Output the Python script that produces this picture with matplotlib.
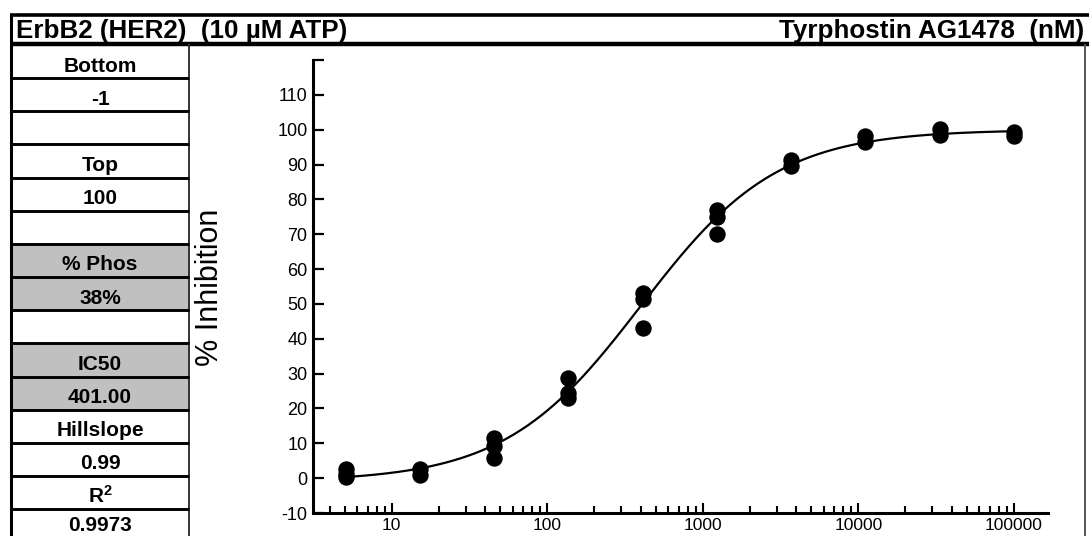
import numpy as np
import matplotlib
matplotlib.use("Agg")
import matplotlib.pyplot as plt
from matplotlib.patches import Rectangle

plt.rcParams['font.family'] = ['Liberation Sans', 'DejaVu Sans']
plt.rcParams['mathtext.fontset'] = 'custom'
plt.rcParams['mathtext.rm'] = 'Liberation Sans'
plt.rcParams['mathtext.bf'] = 'Liberation Sans:bold'

# ---- data ----
title_left = "ErbB2 (HER2)  (10 \u00b5M ATP)"
title_right = "Tyrphostin AG1478  (nM)"
y_label = "% Inhibition"

table_rows = ["Bottom", "-1", "", "Top", "100", "", "% Phos", "38%", "",
              "IC50", "401.00", "Hillslope", "0.99", r"$\mathbf{R^2}$", "0.9973"]
shaded_rows = [6, 7, 9, 10]

conc = [5.08, 15.2, 45.7, 137, 412, 1235, 3704, 11111, 33333, 100000]
replicates = [
    [0.3, 1.3, 2.7],
    [0.9, 2.6],
    [5.7, 9.2, 11.4],
    [23.1, 24.3, 28.6],
    [43.2, 51.3, 53.2],
    [70.0, 75.0, 76.9],
    [89.6, 91.3],
    [96.4, 98.1],
    [98.6, 100.1],
    [98.1, 99.3],
]

fit_bottom = -1.0
fit_top = 100.0
fit_ic50 = 401.0
fit_hill = 0.99

y_ticks = [-10, 0, 10, 20, 30, 40, 50, 60, 70, 80, 90, 100, 110, 120]
y_ticklabels = ["-10", "0", "10", "20", "30", "40", "50", "60", "70", "80", "90", "100", "110", ""]
x_ticks = [10, 100, 1000, 10000, 100000]
x_ticklabels = ["10", "100", "1000", "10000", "100000"]

# ---- figure ----
W, H = 1089, 536
fig = plt.figure(figsize=(W / 100, H / 100), dpi=100)
bg = fig.add_axes([0, 0, 1, 1])
bg.set_xlim(0, W)
bg.set_ylim(H, 0)
bg.axis('off')

# frame / table
row_top0 = 45.0
row_h = 33.15
tab_l, tab_r = 11, 189
for i, label in enumerate(table_rows):
    y0 = row_top0 + row_h * i
    if i in shaded_rows:
        bg.add_patch(Rectangle((tab_l, y0), tab_r - tab_l, row_h, facecolor='#c0c0c0',
                               edgecolor='none', zorder=1))
    if i > 0:
        bg.plot([tab_l, tab_r], [y0, y0], color='black', lw=2.1, zorder=3,
                solid_capstyle='butt')
    visible_h = min(row_h, H - y0)
    bg.text((tab_l + tab_r) / 2, y0 + 0.8 * visible_h, label, ha='center', va='baseline',
            fontsize=15, fontweight='bold', zorder=4)

bg.plot([10, W], [15, 15], color='black', lw=2.6, solid_capstyle='butt')
bg.plot([10, W], [44, 44], color='black', lw=3.2, solid_capstyle='butt')
bg.plot([11, 11], [14, H], color='black', lw=2.2, solid_capstyle='butt')
bg.plot([tab_r, tab_r], [44, H], color='#333333', lw=1.4, solid_capstyle='butt')
bg.plot([1085, 1085], [44, H], color='#555555', lw=1.4, solid_capstyle='butt')

bg.text(16, 38, title_left, ha='left', va='baseline', fontsize=18.7, fontweight='bold')
bg.text(1084, 38, title_right, ha='right', va='baseline', fontsize=18.7, fontweight='bold')
bg.text(210, 287, y_label, ha='center', va='center', rotation=90, fontsize=22)

# ---- plot axes ----
ax_l, ax_r, ax_t, ax_b = 313, 1048, 60, 513
ax = fig.add_axes([ax_l / W, (H - ax_b) / H, (ax_r - ax_l) / W, (ax_b - ax_t) / H])
ax.set_facecolor('none')
ax.set_xscale('log')
ax.set_xlim(10 ** 0.494, 10 ** 5.22)
ax.set_ylim(-10, 120)
for s in ['top', 'right']:
    ax.spines[s].set_visible(False)
for s in ['left', 'bottom']:
    ax.spines[s].set_linewidth(2.2)

ax.set_yticks(y_ticks)
ax.set_yticklabels(y_ticklabels)
ax.set_xticks(x_ticks)
ax.set_xticklabels(x_ticklabels)
ax.xaxis.set_minor_locator(matplotlib.ticker.LogLocator(base=10, subs=np.arange(2, 10)))
ax.xaxis.set_minor_formatter(matplotlib.ticker.NullFormatter())
ax.tick_params(axis='y', direction='in', length=8, width=1.6, labelsize=13, pad=4)
ax.tick_params(axis='x', which='major', direction='in', length=7.5, width=1.5, labelsize=12.5, pad=3.5)
ax.tick_params(axis='x', which='minor', direction='in', length=5, width=1.5)

for c, reps in zip(conc, replicates):
    ax.plot([c] * len(reps), reps, 'o', color='black', markersize=10.8, zorder=3,
            clip_on=False)

xc = np.logspace(np.log10(min(conc)), np.log10(max(conc)), 400)
yc = fit_bottom + (fit_top - fit_bottom) / (1 + (fit_ic50 / xc) ** fit_hill)
ax.plot(xc, yc, color='black', lw=1.6, zorder=2)

fig.savefig("out.png", dpi=100)
